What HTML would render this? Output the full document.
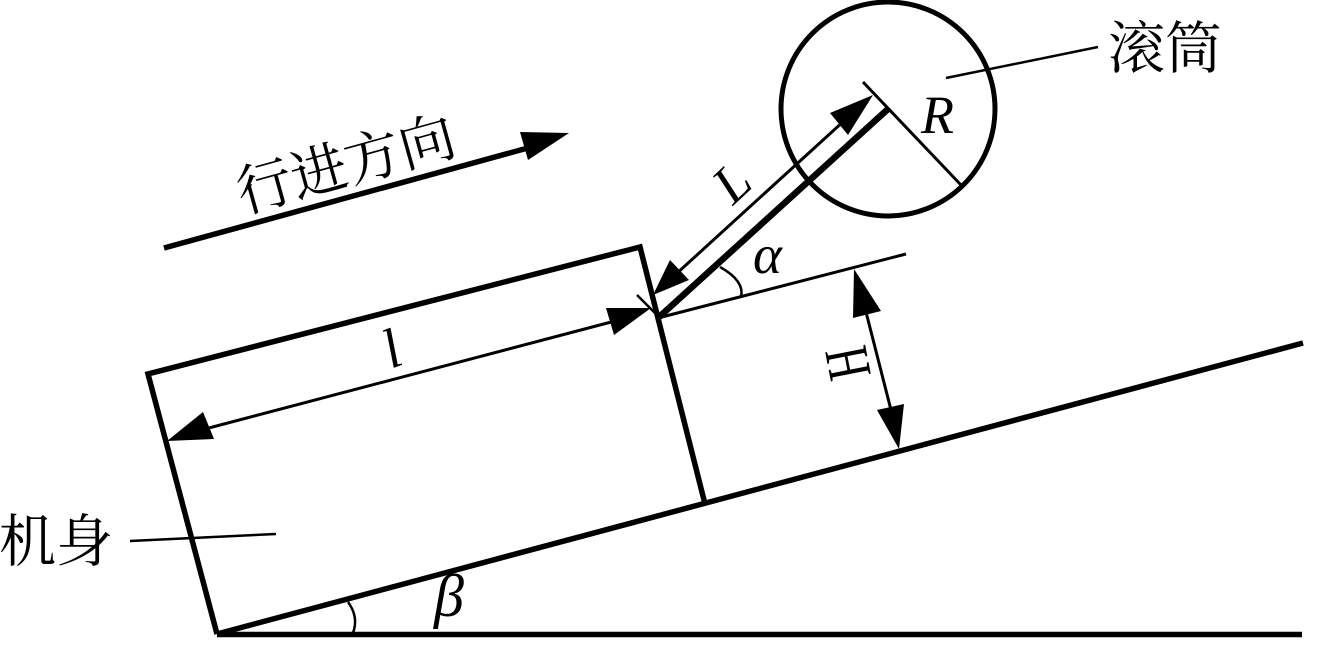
<!DOCTYPE html>
<html>
<head>
<meta charset="utf-8">
<style>
html,body{margin:0;padding:0;background:#fff;width:1328px;height:648px;overflow:hidden}
svg{display:block}
</style>
</head>
<body>
<svg width="1328" height="648" viewBox="0 0 1328 648" xmlns="http://www.w3.org/2000/svg">
<g fill="none" stroke="#000" stroke-linecap="butt">
<!-- ground -->
<line x1="217" y1="634.5" x2="1302" y2="634.5" stroke-width="5.5"/>
<!-- slope -->
<line x1="217" y1="634" x2="1303" y2="343" stroke-width="5.5"/>
<!-- body -->
<polyline points="217,634 148,374 640,247 705,504" stroke-width="5.5"/>
<!-- drum -->
<circle cx="888" cy="109" r="107" stroke-width="5"/>
<!-- arm -->
<line x1="658" y1="318" x2="888" y2="109" stroke-width="6.5"/>
<!-- R -->
<line x1="863" y1="82" x2="961" y2="185" stroke-width="3"/>
<!-- leader drum -->
<line x1="946" y1="78" x2="1098" y2="47" stroke-width="2.5"/>
<!-- leader body -->
<line x1="130" y1="541" x2="276" y2="534" stroke-width="2.5"/>
<!-- direction arrow -->
<line x1="164" y1="248" x2="535" y2="146" stroke-width="5.5"/>
<!-- L -->
<line x1="675" y1="275" x2="845" y2="120" stroke-width="3"/>
<!-- l -->
<line x1="205" y1="429" x2="615" y2="321" stroke-width="3"/>
<!-- alpha ref line -->
<line x1="658" y1="318" x2="906" y2="254" stroke-width="3"/>
<!-- H -->
<line x1="866" y1="312" x2="891" y2="410" stroke-width="3"/>
<!-- small ticks -->
<line x1="637" y1="295" x2="655" y2="313" stroke-width="2.5"/>
<!-- arcs -->
<path d="M720,267 Q745,281 741,297" stroke-width="2.5"/>
<path d="M348,602 Q359,617 353,633" stroke-width="2.5"/>
</g>
<g fill="#000" stroke="none">
<polygon points="569,133 520,132 528,160"/>
<polygon points="873,95 830,113 848,135"/>
<polygon points="653,295 670,260 689,280"/>
<polygon points="651,308 606,308 614,335"/>
<polygon points="167,441 203,412 214,439"/>
<polygon points="854,269 853,318 881,311"/>
<polygon points="899,449 877,410 904,404"/>
</g>
<g font-family="'Liberation Serif','Noto Serif CJK SC',serif" fill="#000">
<text x="1108" y="68" font-size="57">滚筒</text>
<text x="-1" y="561" font-size="57">机身</text>
<text transform="translate(243,213) rotate(-15.5)" font-size="56">行进方向</text>
<text x="921" y="133" font-size="54" font-style="italic">R</text>
<text transform="translate(733,206) rotate(-43)" font-size="54" font-style="italic">L</text>
<text transform="translate(391,369) rotate(-21)" font-size="56" font-style="italic">l</text>
<text x="753" y="273" font-size="55" font-style="italic">α</text>
<text x="434" y="616" font-size="60" font-style="italic">β</text>
<text transform="translate(871,375) rotate(-101) scale(.72,1)" font-size="62">H</text>
</g>
</svg>
</body>
</html>
